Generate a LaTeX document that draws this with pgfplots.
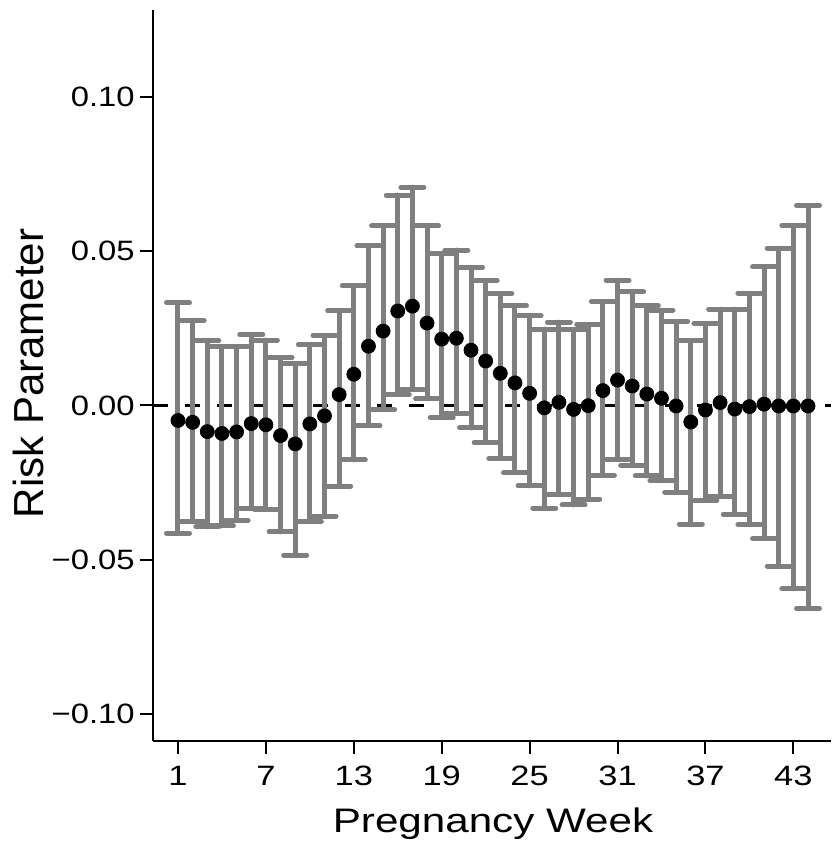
\documentclass[border=0pt]{standalone}
\usepackage{fontspec}
\setmainfont{Liberation Sans}
\newfontfamily\xtickfont[FakeStretch=1.23]{Liberation Sans}
\newfontfamily\ytickfont[FakeStretch=1.17]{Liberation Sans}
\newfontfamily\xlabfont[FakeStretch=1.24]{Liberation Sans}
\usepackage{pgfplots}
\pgfplotsset{compat=1.18}
\usepackage{pgfplotstable}
\definecolor{errgray}{RGB}{127,127,127}

\pgfplotstableread{
w y lo hi
1 -0.0049 -0.0415 0.0333
2 -0.0055 -0.0376 0.0276
3 -0.0085 -0.0394 0.0210
4 -0.0091 -0.0391 0.0191
5 -0.0086 -0.0373 0.0191
6 -0.0059 -0.0333 0.0230
7 -0.0063 -0.0338 0.0212
8 -0.0098 -0.0410 0.0155
9 -0.0125 -0.0486 0.0136
10 -0.0060 -0.0376 0.0197
11 -0.0034 -0.0359 0.0227
12 0.0035 -0.0262 0.0307
13 0.0101 -0.0177 0.0388
14 0.0192 -0.0066 0.0517
15 0.0241 -0.0014 0.0582
16 0.0306 0.0036 0.0682
17 0.0322 0.0052 0.0708
18 0.0267 0.0021 0.0582
19 0.0215 -0.0040 0.0492
20 0.0218 -0.0025 0.0504
21 0.0179 -0.0073 0.0448
22 0.0144 -0.0120 0.0405
23 0.0104 -0.0172 0.0362
24 0.0073 -0.0218 0.0324
25 0.0039 -0.0261 0.0290
26 -0.0008 -0.0333 0.0247
27 0.0010 -0.0290 0.0270
28 -0.0013 -0.0323 0.0247
29 -0.0001 -0.0304 0.0263
30 0.0048 -0.0226 0.0337
31 0.0082 -0.0175 0.0406
32 0.0063 -0.0194 0.0368
33 0.0037 -0.0229 0.0323
34 0.0023 -0.0244 0.0309
35 -0.0002 -0.0282 0.0272
36 -0.0054 -0.0385 0.0209
37 -0.0015 -0.0308 0.0266
38 0.0009 -0.0294 0.0312
39 -0.0012 -0.0353 0.0312
40 -0.0004 -0.0387 0.0364
41 0.0004 -0.0432 0.0449
42 -0.0002 -0.0521 0.0510
43 -0.0002 -0.0595 0.0583
44 -0.0002 -0.0659 0.0648
}\data

\begin{document}
\begin{tikzpicture}
\useasboundingbox (0,0) rectangle (415.5pt,423pt);
\begin{axis}[
  at={(76.5pt,52.5pt)}, anchor=south west,
  scale only axis, width=339pt, height=365.5pt,
  xmin=-0.706, xmax=45.57, ymin=-0.10886, ymax=0.12825,
  axis x line*=bottom, axis y line*=left,
  axis line style={line width=1pt, -},
  xtick={1,7,13,19,25,31,37,43},
  xticklabels={1,7,13,19,25,31,37,43},
  ytick={-0.1,-0.05,0,0.05,0.1},
  yticklabels={−0.10,−0.05,0.00,0.05,0.10},
  tick align=outside, major tick length=6.5pt,
  tick style={line width=1pt, black},
  xticklabel style={font=\xtickfont\fontsize{14pt}{16pt}\selectfont, inner sep=0pt, yshift=-6pt},
  yticklabel style={font=\ytickfont\fontsize{14pt}{16pt}\selectfont, inner sep=0pt, xshift=-2.5pt},
  xlabel={Pregnancy Week}, ylabel={Risk Parameter},
  xlabel style={at={(axis description cs:0.5015,-0.1245)}, anchor=base, font=\xlabfont\fontsize{17pt}{20pt}\selectfont, inner sep=0pt},
  ylabel style={at={(axis description cs:-0.1618,0.503)}, anchor=base, font=\fontsize{21pt}{24pt}\selectfont, inner sep=0pt},
]
\addplot[black, line width=1.5pt, dash pattern=on 7.5pt off 8.5pt] coordinates {(-0.706,0) (45.57,0)};
\addplot[only marks, mark=*, mark size=3.5pt, black,
  error bars/.cd, y dir=both, y explicit,
  error bar style={errgray, line width=2.5pt, line cap=round},
  error mark options={errgray, line width=2.5pt, mark size=5.75pt, rotate=90, line cap=round}]
  table[x=w, y=y, y error plus expr=\thisrow{hi}-\thisrow{y}, y error minus expr=\thisrow{y}-\thisrow{lo}] {\data};
\end{axis}
\end{tikzpicture}
\end{document}
